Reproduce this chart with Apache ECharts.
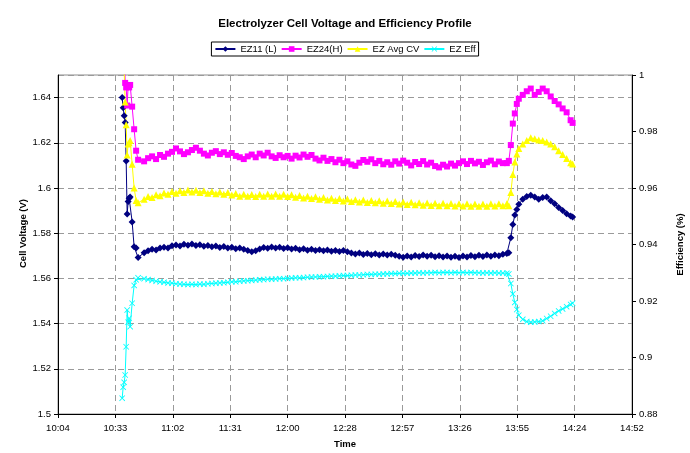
<!DOCTYPE html>
<html>
<head>
<meta charset="utf-8">
<title>Electrolyzer Cell Voltage and Efficiency Profile</title>
<script src="https://cdn.jsdelivr.net/npm/echarts@6/dist/echarts.min.js"></script>
<style>
  html, body { margin: 0; padding: 0; background: #fff; }
  #chart { width: 690px; height: 453px; }
</style>
</head>
<body>
<div id="chart"></div>
<script>
// time of each reading, minutes after midnight
var timeMin = [
  637, 637.5, 638, 638.5, 639, 639.5, 640, 640.5, 641, 642, 643, 644, 645,
  648, 650, 652, 654, 656, 658, 660, 662, 664, 666, 668, 670, 672, 674, 676, 678, 680, 682, 684, 686,
  688, 690, 692, 694, 696, 698, 700, 702, 704, 706, 708, 710, 712, 714, 716, 718, 720, 722, 724, 726,
  728, 730, 732, 734, 736, 738, 740, 742, 744, 746, 748, 750, 752, 754, 756, 758, 760, 762, 764, 766,
  768, 770, 772, 774, 776, 778, 780, 782, 784, 786, 788, 790, 792, 794, 796, 798, 800, 802, 804, 806,
  808, 810, 812, 814, 816, 818, 820, 822, 824, 826, 828,
  830, 831, 832, 833, 834, 835, 836, 838, 840, 842, 844, 846, 848, 850, 852, 854, 856, 858, 860, 862, 863
]

var ez11 = [
  1.640, 1.6355, 1.632, 1.629, 1.612, 1.5885, 1.594, 1.5955, 1.596, 1.585, 1.574, 1.5735, 1.5692,
  1.5714, 1.5722, 1.5729, 1.5726, 1.5735, 1.5738, 1.5734, 1.5745, 1.5748, 1.5743,
  1.5751, 1.5747, 1.5752, 1.5746, 1.5749, 1.5742, 1.5746, 1.5740, 1.5743, 1.5737,
  1.5741, 1.5734, 1.5738, 1.5731, 1.5735, 1.5729, 1.5724, 1.5718, 1.5722, 1.5730,
  1.5737, 1.5733, 1.5739, 1.5734, 1.5738, 1.5732, 1.5736, 1.5730, 1.5733, 1.5727,
  1.5731, 1.5725, 1.5729, 1.5723, 1.5727, 1.5722, 1.5726, 1.5720, 1.5724, 1.5719,
  1.5723, 1.5718, 1.5712, 1.5708, 1.5712, 1.5706, 1.5710, 1.5705, 1.5709, 1.5704,
  1.5708, 1.5703, 1.5707, 1.5702, 1.5698, 1.5694, 1.5699, 1.5695, 1.5701, 1.5697,
  1.5703, 1.5698, 1.5702, 1.5696, 1.5700, 1.5695, 1.5699, 1.5694, 1.5698, 1.5693,
  1.5699, 1.5695, 1.5701, 1.5696, 1.5702, 1.5697, 1.5703, 1.5698, 1.5704, 1.5700,
  1.5707,
  1.5710, 1.5714, 1.5780, 1.5838, 1.5880, 1.5905, 1.5928, 1.5950, 1.5962, 1.5968, 1.5960,
  1.5950, 1.5958, 1.5960, 1.5944, 1.5930, 1.5914, 1.5900, 1.5886, 1.5876, 1.5872
]

var ez24 = [
  1.700, 1.690, 1.672, 1.6465, 1.6445, 1.6365, 1.6455, 1.6445, 1.6456, 1.636, 1.626, 1.6165, 1.6125,
  1.6118, 1.6132, 1.6140, 1.6128, 1.6146, 1.6138, 1.6152, 1.6160, 1.6175, 1.6162,
  1.6150, 1.6158, 1.6168, 1.6178, 1.6165, 1.6152, 1.6144, 1.6156, 1.6163, 1.6150,
  1.6158, 1.6147, 1.6155, 1.6142, 1.6136, 1.6128, 1.6140, 1.6148, 1.6136, 1.6152,
  1.6144, 1.6156, 1.6140, 1.6133, 1.6145, 1.6136, 1.6142, 1.6130, 1.6143, 1.6135,
  1.6148, 1.6138, 1.6146, 1.6130, 1.6122, 1.6134, 1.6120, 1.6128, 1.6114, 1.6125,
  1.6110, 1.6118, 1.6104, 1.6098, 1.6112, 1.6124, 1.6116, 1.6127, 1.6110, 1.6120,
  1.6105, 1.6114, 1.6103, 1.6118, 1.6108, 1.6121, 1.6112, 1.6100, 1.6115, 1.6106,
  1.6119, 1.6104, 1.6112, 1.6097, 1.6091, 1.6103, 1.6095, 1.6108, 1.6099, 1.6110,
  1.6118, 1.6106, 1.6120, 1.6109, 1.6116, 1.6102, 1.6114, 1.6121, 1.6105, 1.6117,
  1.6110,
  1.6110, 1.6120, 1.6190, 1.6285, 1.6330, 1.6372, 1.6395, 1.6412, 1.6428, 1.6440, 1.6412,
  1.6425, 1.6440, 1.6428, 1.6405, 1.6385, 1.6370, 1.6352, 1.6335, 1.6300, 1.6288
]

var ezAvg = [
  1.670, 1.663, 1.652, 1.638, 1.628, 1.6146, 1.6195, 1.620, 1.621, 1.6105, 1.600, 1.5945, 1.5935,
  1.5950, 1.5962, 1.5958, 1.5970, 1.5966, 1.5978, 1.5972, 1.5984, 1.5977, 1.5988,
  1.5980, 1.5991, 1.5982, 1.5990, 1.5980, 1.5988, 1.5977, 1.5985, 1.5975, 1.5982,
  1.5972, 1.5980, 1.5969, 1.5976, 1.5964, 1.5972, 1.5963, 1.5971, 1.5962, 1.5972,
  1.5963, 1.5973, 1.5964, 1.5974, 1.5964, 1.5972, 1.5962, 1.5970, 1.5959, 1.5967,
  1.5956, 1.5964, 1.5953, 1.5961, 1.5950, 1.5958, 1.5947, 1.5955, 1.5945, 1.5953,
  1.5943, 1.5951, 1.5940, 1.5948, 1.5938, 1.5947, 1.5936, 1.5945, 1.5935, 1.5944,
  1.5933, 1.5942, 1.5931, 1.5940, 1.5929, 1.5938, 1.5927, 1.5937, 1.5926, 1.5935,
  1.5924, 1.5934, 1.5923, 1.5933, 1.5922, 1.5932, 1.5921, 1.5931, 1.5920, 1.5930,
  1.5920, 1.5930, 1.5919, 1.5929, 1.5919, 1.5929, 1.5919, 1.5930, 1.5920, 1.5930,
  1.5921,
  1.5930, 1.5922, 1.5980, 1.6060, 1.6115, 1.6150, 1.6175, 1.6195, 1.6210, 1.6222, 1.6218,
  1.6212, 1.6210, 1.6204, 1.6195, 1.6182, 1.6165, 1.6148, 1.6130, 1.6112, 1.6106
]

var ezEff = [
  0.8856, 0.8895, 0.8912, 0.8938, 0.9038, 0.9168, 0.9125, 0.9139, 0.9109, 0.9192, 0.9255, 0.9275, 0.9282,
  0.9279, 0.9276, 0.9273, 0.9270, 0.9268, 0.9266, 0.9264, 0.9263, 0.9261, 0.9260,
  0.9259, 0.9258, 0.9259, 0.9258, 0.9260, 0.9259, 0.9261, 0.9262, 0.9263, 0.9264,
  0.9265, 0.9266, 0.9268, 0.9268, 0.9270, 0.9271, 0.9272, 0.9273, 0.9274, 0.9275,
  0.9276, 0.9277, 0.9277, 0.9278, 0.9279, 0.9279, 0.9280, 0.9281, 0.9282, 0.9282,
  0.9283, 0.9284, 0.9285, 0.9285, 0.9286, 0.9286, 0.9287, 0.9288, 0.9288, 0.9289,
  0.9290, 0.9290, 0.9291, 0.9292, 0.9292, 0.9293, 0.9294, 0.9294, 0.9295, 0.9295,
  0.9296, 0.9296, 0.9297, 0.9297, 0.9298, 0.9298, 0.9298, 0.9299, 0.9299, 0.9300,
  0.9299, 0.9300, 0.9300, 0.9301, 0.9300, 0.9301, 0.9301, 0.9300, 0.9301, 0.9300,
  0.9301, 0.9300, 0.9301, 0.9300, 0.9300, 0.9299, 0.9300, 0.9299, 0.9300, 0.9299,
  0.9299,
  0.9298, 0.9296, 0.9262, 0.9225, 0.9195, 0.9170, 0.9150, 0.9135, 0.9127, 0.9125, 0.9126,
  0.9127, 0.9130, 0.9138, 0.9146, 0.9156, 0.9165, 0.9172, 0.9180, 0.9188, 0.9192
]

var seriesNames = ['EZ11 (L)', 'EZ24(H)', 'EZ Avg CV', 'EZ Eff']

// x axis works in fractions of a day, like the spreadsheet did
function pairs(values) {
  return values.map(function(v, i) {
    return [timeMin[i] / 1440, v]
  })
}

function dayToClock(v) {
  var m = Math.floor(v * 1440 + 1e-6)
  var h = Math.floor(m / 60)
  var mm = m % 60
  return h + ':' + (mm < 10 ? '0' + mm : mm)
}

var crossPath = 'path://M0,1L1,0L5,4L9,0L10,1L6,5L10,9L9,10L5,6L1,10L0,9L4,5Z'
var font = 'Liberation Sans, Arial, sans-serif'
var gridDash = { color: '#9a9a9a', type: [6, 4], width: 1 }

var chart = echarts.init(document.getElementById('chart'))
var option = {
  animation: false,
  backgroundColor: '#fff',
  textStyle: { fontFamily: font },
  title: {
    text: 'Electrolyzer Cell Voltage and Efficiency Profile',
    left: 'center',
    top: 13,
    textStyle: { fontSize: 11.5, fontWeight: 'bold', color: '#000', fontFamily: font }
  },
  legend: {
    data: seriesNames,
    left: 'center',
    top: 42,
    padding: [2, 3],
    itemGap: 4,
    itemWidth: 20,
    itemHeight: 7,
    borderColor: '#000',
    borderWidth: 1,
    borderRadius: 0,
    textStyle: { fontSize: 9.5, color: '#000', fontFamily: font }
  },
  grid: {
    left: 58,
    right: 58,
    top: 75,
    bottom: 39,
    outerBoundsMode: 'none',
    show: true,
    borderColor: '#8c8c8c',
    borderWidth: 1
  },
  xAxis: {
    type: 'value',
    min: 0.42,
    max: 0.62,
    interval: 0.02,
    name: 'Time',
    nameLocation: 'middle',
    nameGap: 25,
    nameMoveOverlap: false,
    nameTextStyle: { fontSize: 9.5, fontWeight: 'bold', color: '#000' },
    axisLine: { lineStyle: { color: '#000', width: 1 } },
    axisTick: { show: true, length: 4, lineStyle: { color: '#000' } },
    axisLabel: {
      fontSize: 9.5,
      color: '#000',
      margin: 9,
      formatter: dayToClock
    },
    splitLine: { show: true, lineStyle: gridDash }
  },
  yAxis: [{
    type: 'value',
    min: 1.5,
    max: 1.65,
    interval: 0.02,
    name: 'Cell Voltage (V)',
    nameLocation: 'middle',
    nameGap: 30,
    nameMoveOverlap: false,
    nameTextStyle: { fontSize: 9.5, fontWeight: 'bold', color: '#000', padding: [0, 0, 0, 22] },
    axisLine: { show: true, lineStyle: { color: '#000', width: 1 } },
    axisTick: { show: true, length: 4, lineStyle: { color: '#000' } },
    axisLabel: { fontSize: 9.5, color: '#000', margin: 7, showMaxLabel: false },
    splitLine: { show: true, lineStyle: gridDash }
  }, {
    type: 'value',
    min: 0.88,
    max: 1,
    interval: 0.02,
    name: 'Efficiency (%)',
    nameLocation: 'middle',
    nameGap: 43,
    nameTextStyle: { fontSize: 9.5, fontWeight: 'bold', color: '#000' },
    axisLine: { show: true, lineStyle: { color: '#000', width: 1 } },
    axisTick: { show: true, length: 4, lineStyle: { color: '#000' } },
    axisLabel: { fontSize: 9.5, color: '#000', margin: 7 },
    splitLine: { show: false }
  }],
  series: [{
    name: seriesNames[0],
    type: 'line',
    data: pairs(ez11),
    symbol: 'diamond',
    symbolSize: 7,
    showAllSymbol: true,
    color: '#000080',
    lineStyle: { width: 1, color: '#000080' },
    itemStyle: { color: '#000080' }
  }, {
    name: seriesNames[1],
    type: 'line',
    data: pairs(ez24),
    symbol: 'rect',
    symbolSize: 6,
    showAllSymbol: true,
    color: '#ff00ff',
    lineStyle: { width: 1, color: '#ff00ff' },
    itemStyle: { color: '#ff00ff' }
  }, {
    name: seriesNames[2],
    type: 'line',
    data: pairs(ezAvg),
    symbol: 'triangle',
    symbolSize: 7,
    showAllSymbol: true,
    color: '#ffff00',
    lineStyle: { width: 1, color: '#ffff00' },
    itemStyle: { color: '#ffff00' }
  }, {
    name: seriesNames[3],
    type: 'line',
    yAxisIndex: 1,
    data: pairs(ezEff),
    symbol: crossPath,
    symbolSize: 6,
    showAllSymbol: true,
    color: '#00ffff',
    lineStyle: { width: 1, color: '#00ffff' },
    itemStyle: { color: '#00ffff' }
  }]
}
chart.setOption(option)
</script>
</body>
</html>
